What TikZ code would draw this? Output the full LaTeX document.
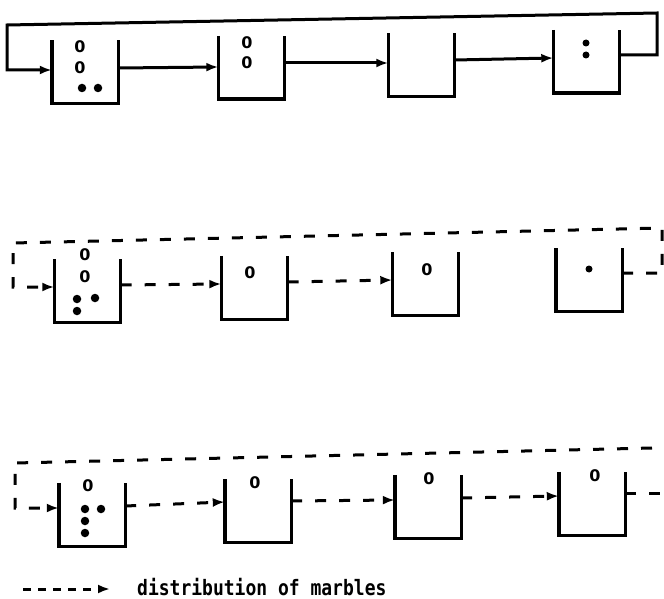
\documentclass[tikz,border=0pt]{standalone}
\usepackage{fontspec}
\usepackage{graphicx}
\usetikzlibrary{arrows.meta}
\newfontfamily\digitfont{DejaVu Sans}
\newfontfamily\legendfont{DejaVu Sans Mono}
\begin{document}
\begin{tikzpicture}[x=1pt,y=-1pt,
  bin/.style={draw=none,minimum width=66pt,minimum height=63pt,inner sep=0pt},
  wall/.style={line width=3.4pt,line join=miter},
  link/.style={line width=3pt,-{Latex[length=12pt,width=9pt]}},
  dlink/.style={link,dash pattern=on 11pt off 13pt},
  dline/.style={line width=3pt,dash pattern=on 11pt off 13pt},
  digit/.style={font=\digitfont\bfseries\fontsize{16}{16}\selectfont,inner sep=0pt},
  marble/.style={fill=black,circle,inner sep=0pt,minimum size=8.5pt},
  smallmarble/.style={fill=black,circle,inner sep=0pt,minimum size=7pt}]
\useasboundingbox (0,0) rectangle (664,599);
\fill[white] (0,0) rectangle (664,599);

% ---------- row 1 ----------
\node[bin] (b11) at (85,72) {};
\node[bin] (b12) at (251.5,67.5) {};
\node[bin] (b13) at (421.5,65) {};
\node[bin] (b14) at (586.5,61.5) {};
\foreach \b in {b11,b12,b13,b14}
  \draw[wall] (\b.north west) -- (\b.south west) -- (\b.south east) -- (\b.north east);

\node[digit] (z11a) at (80,47) {0};
\node[digit] (z11b) at (80,68) {0};
\node[marble] (m11a) at (82,88) {};
\node[marble] (m11b) at (98,88) {};
\node[digit] (z12a) at (247,43) {0};
\node[digit] (z12b) at (247,63) {0};
\node[smallmarble] (m14a) at (586,43) {};
\node[smallmarble] (m14b) at (586,55) {};

\draw[link] (b11.east |- 0,68) -- (b12.west |- 0,67);
\draw[link] (b12.east |- 0,63) -- (b13.west |- 0,63);
\draw[link] (b13.east |- 0,60) -- (b14.west |- 0,58);
\coordinate (r1a) at (657,55);
\coordinate (r1b) at (657,13);
\coordinate (r1c) at (7,25);
\coordinate (r1d) at (7,70);
\draw[link,line join=miter] (b14.east |- r1a) -- (r1a) -- (r1b) -- (r1c) -- (r1d) -- (b11.west |- r1d);

% ---------- row 2 ----------
\node[bin] (b21) at (87.5,291) {};
\node[bin] (b22) at (254.5,287.5) {};
\node[bin] (b23) at (425.5,284) {};
\node[bin] (b24) at (589,280) {};
\foreach \b in {b21,b22,b23,b24}
  \draw[wall] (\b.north west) -- (\b.south west) -- (\b.south east) -- (\b.north east);

\node[digit] (z21a) at (85,255) {0};
\node[digit] (z21b) at (85,277) {0};
\node[marble] (m21a) at (77,299) {};
\node[marble] (m21b) at (95,298) {};
\node[marble] (m21c) at (77,311) {};
\node[digit] (z22a) at (250,273) {0};
\node[digit] (z23a) at (427,270) {0};
\node[smallmarble] (m24a) at (589,269) {};

\draw[dlink] (b21.east |- 0,285) -- (b22.west |- 0,284);
\draw[dlink] (b22.east |- 0,282) -- (b23.west |- 0,280);
\coordinate (r2a) at (662,273);
\coordinate (r2b) at (662,228);
\coordinate (r2c) at (13,243);
\coordinate (r2d) at (13,287);
\draw[dlink] (b24.east |- r2a) -- (r2a) -- (r2b) -- (r2c) -- (r2d) -- (b21.west |- r2d);

% ---------- row 3 ----------
\node[bin] (b31) at (92,514.5) {};
\node[bin] (b32) at (258,511) {};
\node[bin] (b33) at (428,506.5) {};
\node[bin] (b34) at (592,503.5) {};
\foreach \b in {b31,b32,b33,b34}
  \draw[wall] (\b.north west) -- (\b.south west) -- (\b.south east) -- (\b.north east);

\node[digit] (z31a) at (88,486) {0};
\node[marble] (m31a) at (85,509) {};
\node[marble] (m31b) at (101,509) {};
\node[marble] (m31c) at (85,521) {};
\node[marble] (m31d) at (85,533) {};
\node[digit] (z32a) at (255,483) {0};
\node[digit] (z33a) at (429,479) {0};
\node[digit] (z34a) at (595,476) {0};

\draw[dlink] (b31.east |- 0,506) -- (b32.west |- 0,502);
\draw[dlink] (b32.east |- 0,501) -- (b33.west |- 0,500);
\draw[dlink] (b33.east |- 0,498) -- (b34.west |- 0,496);
\coordinate (e3) at (664,493);
\draw[dline] (b34.east |- e3) -- (e3);
\coordinate (r3a) at (652,448);
\coordinate (r3b) at (15,463);
\coordinate (r3c) at (15,508);
\draw[dlink] (r3a) -- (r3b) -- (r3c) -- (b31.west |- r3c);

% ---------- legend ----------
\coordinate (l1) at (23,589);
\coordinate (l2) at (110,589);
\draw[link,dash pattern=on 8pt off 7pt] (l1) -- (l2);
\node[anchor=base west,inner sep=0pt,font=\legendfont\bfseries\fontsize{18}{18}\selectfont] (leg) at (137,595)
  {\scalebox{1}[1.18]{distribution of marbles}};
\end{tikzpicture}
\end{document}
